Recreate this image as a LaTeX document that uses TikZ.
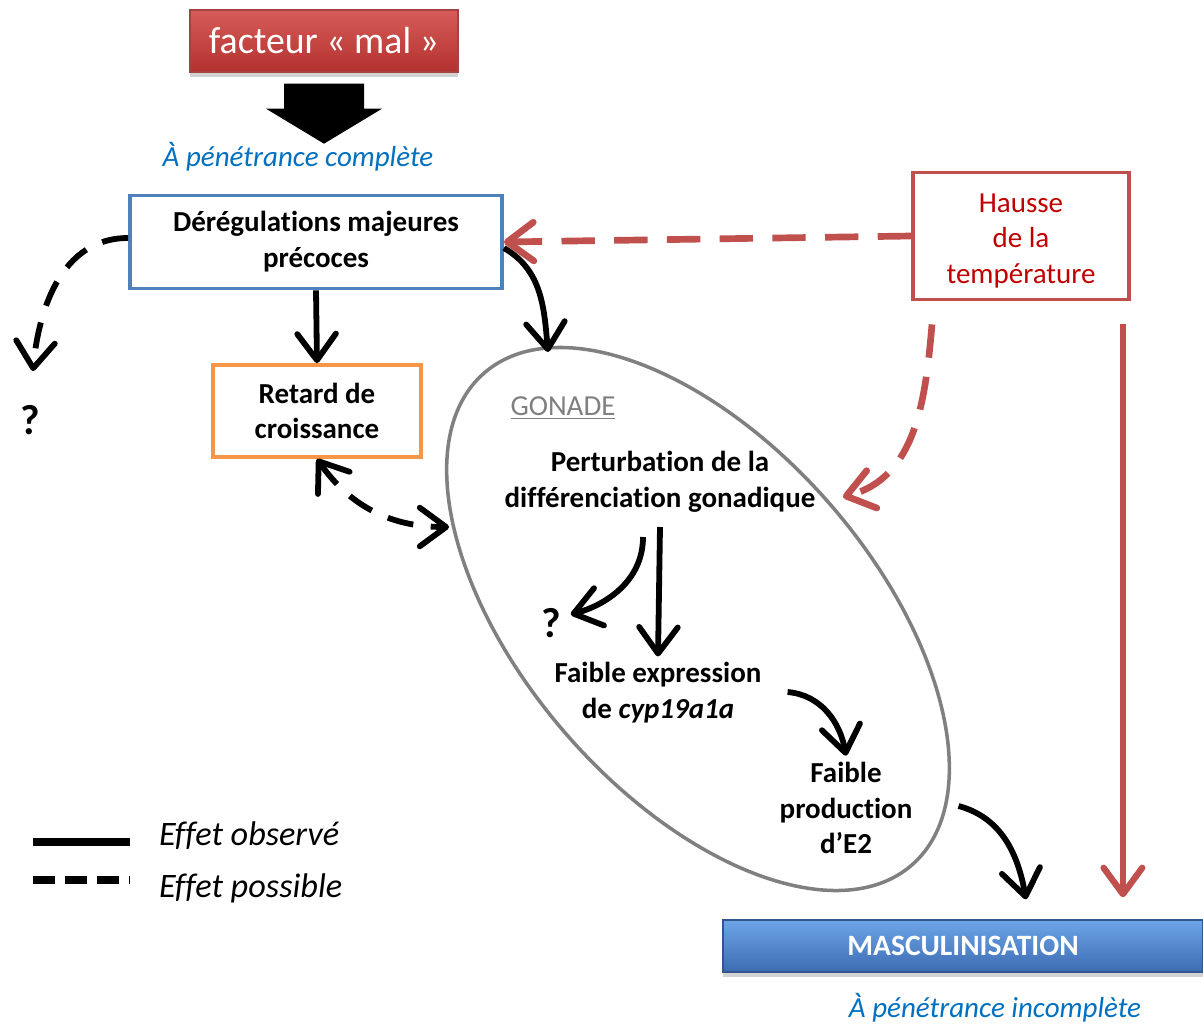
\documentclass[tikz,border=0pt]{standalone}
\usepackage{fontspec}
\setmainfont{Carlito}[Ligatures=NoCommon]
\usetikzlibrary{arrows.meta, positioning, calc, shapes.geometric, shadows}
\definecolor{inkblue}{HTML}{4F81BD}
\definecolor{inkorange}{HTML}{F79646}
\definecolor{inkred}{HTML}{C0504D}
\definecolor{inkdarkred}{HTML}{C00000}
\definecolor{inkgrey}{HTML}{808080}
\definecolor{inklink}{HTML}{0070C0}
\definecolor{inkredtop}{HTML}{D65C58}
\definecolor{inkredbot}{HTML}{B3312E}
\definecolor{inkbluetop}{HTML}{6CA6E8}
\definecolor{inkbluebot}{HTML}{3D6BB1}

\begin{document}
\begin{tikzpicture}[x=0.02cm, y=-0.02cm,
    txt/.style={font=\fontsize{16.5}{20.4}\selectfont, align=center},
    boldtxt/.style={font=\fontsize{16.5}{20.4}\selectfont\bfseries, align=center},
    slanttxt/.style={font=\fontsize{16.5}{20.4}\selectfont\itshape},
    keytxt/.style={font=\fontsize{19.5}{23}\selectfont\itshape, anchor=west},
    qmark/.style={font=\fontsize{24}{28}\selectfont\bfseries, inner sep=0pt},
    framebox/.style={draw, line width=2.2pt, align=center},
    seen/.style={line width=3.3pt, -{Straight Barb[round, length=15pt, width=22pt]}},
    maybe/.style={seen, dash pattern=on 15pt off 10pt},
    seenred/.style={seen, draw=inkred},
    maybered/.style={seenred, line width=3.8pt, dash pattern=on 19pt off 11pt}]
    \useasboundingbox (0,0) rectangle (1203,1024);
    \fill[white] (0,0) rectangle (1203,1024);

    \node[draw=inkred!85!black, line width=0.8pt, top color=inkredtop, bottom color=inkredbot,
      minimum width=5.36cm, minimum height=1.24cm, text=white, font=\fontsize{21.5}{25}\selectfont,
      drop shadow={shadow xshift=0pt, shadow yshift=-3pt, opacity=0.35}] (malfact) at (324,41) {facteur « mal »};
    \fill[black] ([shift={(-40,11)}]malfact.south) -- ++(80,0) -- ++(0,25) -- ++(18,0)
      -- ++(-58,35) -- ++(-58,-35) -- ++(18,0) -- cycle;
    \node[slanttxt, text=inklink] (pencomp) at (298,157) {À pénétrance complète};

    \node[framebox, draw=inkblue, boldtxt, minimum width=7.44cm, minimum height=1.86cm] (dereg) at (316,242) {Dérégulations majeures\\précoces};
    \node[framebox, draw=inkorange, boldtxt, minimum width=4.16cm, minimum height=1.84cm] (retard) at (317,411) {Retard de\\croissance};
    \node[framebox, draw=inkred, minimum width=4.32cm, minimum height=2.54cm] (hausse) at (1021,236) {};
    \node[txt, text=inkdarkred] (haussetxt) at (1021,241) {Hausse\\de la\\température};

    \node[draw=inkgrey, line width=2pt, ellipse, minimum width=13.04cm, minimum height=7cm, rotate=-49] (gonade) at (698,619) {};
    \node[txt, text=inkgrey] (gonlabel) at (563,408) {\underline{GONADE}};
    \node[boldtxt] (perturb) at (660,482) {Perturbation de la\\différenciation gonadique};
    \node[boldtxt] (expr) at (658,693) {Faible expression\\de \textit{cyp19a1a}};
    \node[boldtxt] (prod) at (846,808) {Faible\\production\\d’E2};
    \node[qmark] (qa) at (30,420) {?};
    \node[qmark] (qb) at (551,623) {?};

    \node[draw=inkbluebot!80!black, line width=0.8pt, top color=inkbluetop, bottom color=inkbluebot,
      minimum width=9.6cm, minimum height=1.04cm, text=white, font=\fontsize{16.8}{20}\selectfont\bfseries,
      drop shadow={shadow xshift=0pt, shadow yshift=-3pt, opacity=0.35}] (masc) at (963,946) {MASCULINISATION};
    \node[slanttxt, text=inklink] (peninc) at (995,1008) {À pénétrance incomplète};

    \coordinate (gtop) at (548,352);
    \coordinate (gleft) at (449,527);
    \coordinate (gright) at (843,497);
    \coordinate (redx) at ([xshift=-0.16cm]hausse.south east);

    \draw[maybe, shorten >=0.68cm] ([yshift=0.08cm]dereg.west) to[out=180, in=85] (qa.north);
    \draw[seen] (dereg.south) -- (retard.north);
    \draw[seen] ([yshift=-0.12cm]dereg.east) to[out=-30, in=95] (gtop);
    \draw[maybered] (hausse.west) -- (dereg.east);
    \draw[maybered] ([shift={(-89,23)}]hausse.south) to[out=-95, in=15] (gright);
    \draw[seenred, line width=3.6pt, shorten <=0.46cm, shorten >=0.44cm] (redx) -- (redx |- masc.north);
    \draw[maybe, {Straight Barb[round, length=15pt, width=22pt]}-{Straight Barb[round, length=15pt, width=22pt]}]
      (retard.south) to[out=-55, in=180] (gleft);
    \draw[seen, shorten >=0.2cm] ([shift={(-17,55)}]perturb.center) to[out=-90, in=15] ([yshift=0.12cm]qb.east);
    \draw[seen] ([yshift=-0.9cm]perturb.center) -- (expr.north);
    \draw[seen] ([shift={(20,-1)}]expr.east) to[out=-5, in=100] (prod.north);
    \draw[seen] ([shift={(40,-2)}]prod.east) to[out=-15, in=100] ([shift={(63,-20)}]masc.north);

    \coordinate (keyA) at (33,842);
    \coordinate (keyB) at (130,842);
    \coordinate (keyC) at (33,880);
    \coordinate (keyD) at (130,880);
    \draw[line width=4.5pt] (keyA) -- (keyB);
    \draw[line width=4.5pt, dash pattern=on 12.5pt off 5.7pt] (keyC) -- (keyD);
    \node[keytxt] (keyseen) at (153,836) {Effet observé};
    \node[keytxt] (keymaybe) at (153,888) {Effet possible};
  \end{tikzpicture}
\end{document}
